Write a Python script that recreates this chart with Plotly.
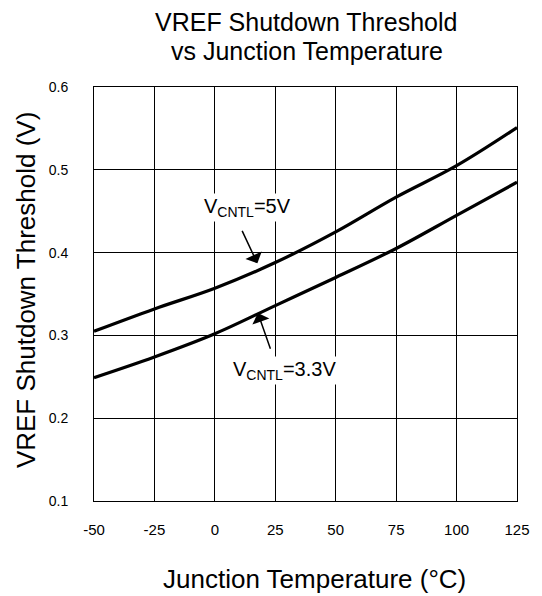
import plotly.graph_objects as go

temps = [-50, -25, 0, 25, 50, 75, 100, 125]
v_5v = [0.305, 0.332, 0.357, 0.388, 0.425, 0.467, 0.505, 0.551]
v_33v = [0.249, 0.274, 0.302, 0.336, 0.370, 0.405, 0.445, 0.485]

x_ticks = [-50, -25, 0, 25, 50, 75, 100, 125]
y_ticks = [0.1, 0.2, 0.3, 0.4, 0.5, 0.6]

FONT = "Liberation Sans, Arial, sans-serif"
L, T, W, H = 94, 87, 430, 414  # plot area in pixels


def px_x(p):
    return (p - L) / W


def px_y(p):
    return 1 - (p - T) / H


fig = go.Figure()
fig.add_trace(go.Scatter(x=temps, y=v_5v, mode="lines", line=dict(color="black", width=3.2, shape="spline"), name="VCNTL=5V"))
fig.add_trace(go.Scatter(x=temps, y=v_33v, mode="lines", line=dict(color="black", width=3.2, shape="spline"), name="VCNTL=3.3V"))

fig.update_layout(
    width=542, height=596,
    margin=dict(l=L, r=542 - L - W, t=T, b=596 - T - H),
    paper_bgcolor="white", plot_bgcolor="white",
    showlegend=False,
    font=dict(family=FONT, color="black"),
    xaxis=dict(range=[-50, 125], tickvals=x_ticks, ticktext=[str(t) for t in x_ticks],
               showgrid=True, gridcolor="black", gridwidth=1,
               showline=True, linecolor="black", linewidth=1, mirror=True,
               zeroline=False, ticks="", tickfont=dict(size=15, family=FONT),
               ticklabelstandoff=15),
    yaxis=dict(range=[0.1, 0.6], tickvals=y_ticks, ticktext=[f"{t:.1f}" for t in y_ticks],
               showgrid=True, gridcolor="black", gridwidth=1,
               showline=True, linecolor="black", linewidth=1, mirror=True,
               zeroline=False, ticks="", tickfont=dict(size=14, family=FONT),
               ticklabelstandoff=22),
)

# title lines
fig.add_annotation(x=px_x(309), xref="paper", y=px_y(22.5), yref="paper",
                   text="VREF Shutdown Threshold", showarrow=False,
                   font=dict(size=25, family=FONT, color="black"), xanchor="center", yanchor="middle")
fig.add_annotation(x=px_x(311), xref="paper", y=px_y(51), yref="paper",
                   text="vs Junction Temperature", showarrow=False,
                   font=dict(size=25, family=FONT, color="black"), xanchor="center", yanchor="middle")
# axis titles
fig.add_annotation(x=px_x(318), xref="paper", y=px_y(579), yref="paper",
                   text="Junction Temperature (°C)", showarrow=False,
                   font=dict(size=26, family=FONT, color="black"), xanchor="center", yanchor="middle")
fig.add_annotation(x=px_x(25), xref="paper", y=px_y(290), yref="paper", textangle=-90,
                   text="VREF Shutdown Threshold (V)", showarrow=False,
                   font=dict(size=26, family=FONT, color="black"), xanchor="center", yanchor="middle")

# arrows
fig.add_annotation(x=17.6, y=0.387, ax=11.0, ay=0.428, xref="x", yref="y", axref="x", ayref="y",
                   text="", showarrow=True, arrowhead=1, arrowsize=2.0, arrowwidth=1.5, arrowcolor="black")
fig.add_annotation(x=17.8, y=0.327, ax=23.2, ay=0.282, xref="x", yref="y", axref="x", ayref="y",
                   text="", showarrow=True, arrowhead=1, arrowsize=2.0, arrowwidth=1.5, arrowcolor="black")
# labels
fig.add_annotation(x=13.7, y=0.455, xref="x", yref="y", text="V<sub>CNTL</sub>=5V", showarrow=False,
                   font=dict(size=20, family=FONT, color="black"), bgcolor="white", xanchor="center", yanchor="middle")
fig.add_annotation(x=28.8, y=0.258, xref="x", yref="y", text="V<sub>CNTL</sub>=3.3V", showarrow=False,
                   font=dict(size=20, family=FONT, color="black"), bgcolor="white", xanchor="center", yanchor="middle")

fig.write_html("out.html", config={"displayModeBar": False, "responsive": False},
               post_script="document.body.style.margin='0';document.body.style.overflow='hidden';")
